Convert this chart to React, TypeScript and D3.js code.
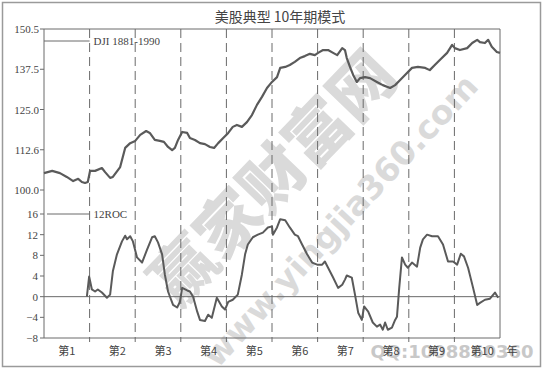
import React from "react";
import * as d3 from "d3";

const title = "美股典型 10年期模式";
const periodLabels = ["第1", "第2", "第3", "第4", "第5", "第6", "第7", "第8", "第9", "第10"];
const yearUnit = "年";
const djiTickLabels = ["100.0", "112.6", "125.0", "137.5", "150.5"];
const rocTickValues = [-8, -4, 0, 4, 8, 12, 16];
const djiLegend = "DJI 1881-1990";
const rocLegend = "12ROC";

// [year position within 10-year cycle, index value]
const djiYears = [0, 0.18, 0.35, 0.5, 0.64, 0.75, 0.83, 0.9, 0.96, 1.01, 1.12, 1.27, 1.34, 1.45, 1.51, 1.67, 1.78, 1.89, 2.0, 2.11, 2.24, 2.32, 2.43, 2.54, 2.63, 2.72, 2.81, 2.87, 2.94, 3.03, 3.14, 3.2, 3.31, 3.42, 3.53, 3.64, 3.73, 3.82, 3.93, 4.04, 4.14, 4.23, 4.34, 4.45, 4.56, 4.67, 4.78, 4.89, 5.0, 5.11, 5.18, 5.29, 5.39, 5.5, 5.61, 5.72, 5.83, 5.94, 6.01, 6.12, 6.23, 6.34, 6.43, 6.54, 6.6, 6.64, 6.71, 6.78, 6.86, 6.93, 7.04, 7.15, 7.3, 7.43, 7.59, 7.7, 7.81, 7.96, 8.07, 8.2, 8.36, 8.46, 8.57, 8.68, 8.84, 8.95, 9.01, 9.12, 9.28, 9.39, 9.5, 9.56, 9.67, 9.74, 9.82, 9.93, 10.0];
const djiValues = [105.3, 106.0, 105.3, 104.1, 102.8, 103.5, 102.5, 102.2, 102.5, 106.0, 106.0, 106.9, 105.6, 103.8, 104.1, 107.2, 113.2, 114.7, 115.4, 117.3, 118.5, 117.9, 115.7, 115.4, 115.1, 113.5, 112.5, 113.2, 115.7, 118.2, 117.9, 116.3, 115.7, 114.7, 114.4, 113.5, 113.2, 114.7, 116.3, 117.9, 119.8, 120.4, 119.8, 121.3, 123.5, 126.7, 129.2, 132.0, 133.9, 135.4, 138.3, 138.6, 139.2, 140.2, 141.4, 142.0, 142.7, 142.3, 143.0, 143.9, 143.9, 143.0, 142.3, 144.5, 143.9, 141.4, 138.6, 136.1, 133.9, 135.1, 135.4, 135.1, 133.9, 132.9, 132.0, 132.9, 134.5, 136.7, 138.3, 138.6, 138.3, 137.6, 139.2, 140.8, 143.0, 145.5, 144.5, 143.9, 144.5, 146.1, 147.1, 146.4, 146.1, 147.1, 144.9, 143.3, 143.0];

const rocYears = [0.94, 0.99, 1.05, 1.12, 1.18, 1.27, 1.38, 1.45, 1.51, 1.6, 1.71, 1.78, 1.82, 1.89, 1.95, 2.04, 2.15, 2.26, 2.37, 2.43, 2.5, 2.59, 2.65, 2.72, 2.83, 2.92, 2.98, 3.03, 3.14, 3.2, 3.27, 3.36, 3.42, 3.53, 3.6, 3.68, 3.79, 3.9, 3.97, 4.04, 4.14, 4.25, 4.34, 4.41, 4.47, 4.58, 4.69, 4.8, 4.91, 5.0, 5.02, 5.11, 5.18, 5.29, 5.39, 5.5, 5.57, 5.66, 5.77, 5.88, 5.99, 6.1, 6.16, 6.23, 6.34, 6.45, 6.54, 6.6, 6.64, 6.75, 6.82, 6.89, 6.97, 7.02, 7.11, 7.21, 7.3, 7.37, 7.43, 7.48, 7.54, 7.63, 7.7, 7.74, 7.79, 7.85, 7.92, 7.98, 8.07, 8.18, 8.25, 8.31, 8.4, 8.51, 8.64, 8.75, 8.86, 8.97, 9.06, 9.14, 9.21, 9.3, 9.41, 9.5, 9.56, 9.67, 9.78, 9.89, 9.96];
const rocValues = [0, 3.9, 1.4, 1.0, 1.4, 0.8, -0.2, 0.4, 4.9, 8.2, 10.7, 11.8, 11.1, 11.7, 10.7, 7.6, 6.6, 9.1, 11.5, 11.7, 10.5, 8.2, 4.3, 1.0, -1.6, -2.1, -1.0, 1.7, 1.2, 1.0, 0, -2.9, -4.5, -4.7, -3.5, -4.1, -0.2, -1.9, -2.5, -1.0, -0.6, 0.4, 4.3, 8.2, 10.1, 11.5, 12.0, 12.4, 13.4, 13.6, 12.0, 13.4, 15.0, 14.8, 13.4, 12.0, 11.7, 10.1, 8.2, 6.6, 6.2, 6.2, 6.8, 5.6, 3.7, 1.7, 2.3, 3.3, 4.1, 3.7, 0.4, -3.1, -4.5, -1.9, -2.9, -5.0, -5.8, -5.4, -6.4, -5.0, -6.4, -6.0, -4.5, -3.9, 1.7, 7.6, 6.2, 5.6, 6.6, 5.8, 9.5, 11.1, 12.0, 11.7, 11.7, 10.1, 6.8, 6.8, 6.2, 8.3, 7.8, 5.6, 1.7, -1.6, -1.2, -0.6, -0.4, 0.8, -0.2];

const watermarkMain = "赢家财富网";
const watermarkUrl = "www.yingjia360.com";
const watermarkQQ = "QQ:1008860360";

const W = 545;
const H = 373;
const left = 44, right = 500, top = 29, bottom = 338;
const serif = "'Liberation Serif', 'DejaVu Serif', serif";
const cjk = "'Noto Sans CJK SC', sans-serif";
const axisColor = "#6a6a6a";
const lineColor = "#5a5a5a";

export default function App() {
  const x = d3.scaleLinear().domain([0, 10]).range([left, right]);
  const yTop = d3.scaleLinear().domain([100, 150.5]).range([190, top]);
  const yBot = d3.scaleLinear().domain([-8, 16]).range([bottom, 214]);
  const topTicks = d3.range(djiTickLabels.length).map((i) => 100 + (i * 50.5) / (djiTickLabels.length - 1));

  const djiLine = d3.line<number>().x((_, i) => x(djiYears[i])).y((d) => yTop(d));
  const rocLine = d3.line<number>().x((_, i) => x(rocYears[i])).y((d) => yBot(d));

  return (
    <svg width={W} height={H} style={{ position: "absolute", left: 0, top: 0, background: "#fff" }}>
      <rect x={0} y={0} width={W} height={H} fill="#fff" />
      <rect x={2.5} y={2.5} width={538} height={364} fill="none" stroke="#9a9a9a" strokeWidth={1.5} />

      {/* watermark */}
      <g fill="#dadada">
        <text x={275} y={200} fontFamily={cjk} fontWeight={900} fontSize={64} textAnchor="middle"
          transform="rotate(-46 275 180)">{watermarkMain}</text>
        <text x={340} y={232} fontFamily="'DejaVu Sans', sans-serif" fontWeight={700} fontSize={33} textAnchor="middle"
          transform="rotate(-47 340 220)">{watermarkUrl}</text>
      </g>
      <text x={452} y={358} fontFamily="'DejaVu Sans', sans-serif" fontWeight={700} fontSize={18} fill="#c8c8c8" textAnchor="middle">{watermarkQQ}</text>

      <text x={280} y={22} fontFamily={cjk} fontSize={14} fill="#444" textAnchor="middle">{title}</text>

      {/* plot frame */}
      <line x1={left} x2={right} y1={top} y2={top} stroke={axisColor} />
      <line x1={right} x2={right} y1={top} y2={bottom} stroke={axisColor} />
      <line x1={left} x2={left} y1={top} y2={bottom} stroke={axisColor} />
      <line x1={left} x2={right} y1={bottom} y2={bottom} stroke={axisColor} />
      <line x1={left} x2={right} y1={yBot(0)} y2={yBot(0)} stroke={axisColor} />

      {/* dashed period dividers */}
      {d3.range(1, 10).map((k) => (
        <line key={k} x1={x(k)} x2={x(k)} y1={top} y2={bottom + 4} stroke={axisColor} strokeDasharray="9,5" />
      ))}

      {/* left axis ticks */}
      {topTicks.map((v, i) => (
        <g key={"t" + i}>
          <line x1={left - 4} x2={left} y1={yTop(v)} y2={yTop(v)} stroke={axisColor} />
          <text x={left - 5} y={yTop(v) + 4} fontFamily={serif} fontSize={11} fill="#444" textAnchor="end">{djiTickLabels[i]}</text>
        </g>
      ))}
      {rocTickValues.map((v) => (
        <g key={"r" + v}>
          <line x1={left - 4} x2={left} y1={yBot(v)} y2={yBot(v)} stroke={axisColor} />
          <text x={left - 6} y={yBot(v) + 4} fontFamily={serif} fontSize={11} fill="#444" textAnchor="end">{v < 0 ? "−" + Math.abs(v) : v}</text>
        </g>
      ))}

      {/* x labels */}
      {periodLabels.map((s, i) => (
        <text key={s} x={(x(i) + x(i + 1)) / 2 + (i === 0 ? 0 : 5)} y={355} fontFamily={cjk} fontSize={11} fill="#444" textAnchor="middle">{s}</text>
      ))}
      <text x={512} y={355} fontFamily={cjk} fontSize={11} fill="#444" textAnchor="middle">{yearUnit}</text>

      {/* legends */}
      <line x1={left} x2={x(1)} y1={41} y2={41} stroke={axisColor} />
      <text x={x(1) + 4} y={45} fontFamily={serif} fontSize={11} fill="#444">{djiLegend}</text>
      <line x1={left + 3} x2={x(1)} y1={yBot(16)} y2={yBot(16)} stroke={axisColor} />
      <text x={x(1) + 4} y={yBot(16) + 4} fontFamily={serif} fontSize={11} fill="#444">{rocLegend}</text>

      {/* data */}
      <path d={djiLine(djiValues) ?? ""} fill="none" stroke={lineColor} strokeWidth={2.2} strokeLinejoin="round" />
      <path d={rocLine(rocValues) ?? ""} fill="none" stroke={lineColor} strokeWidth={2} strokeLinejoin="round" />
    </svg>
  );
}
